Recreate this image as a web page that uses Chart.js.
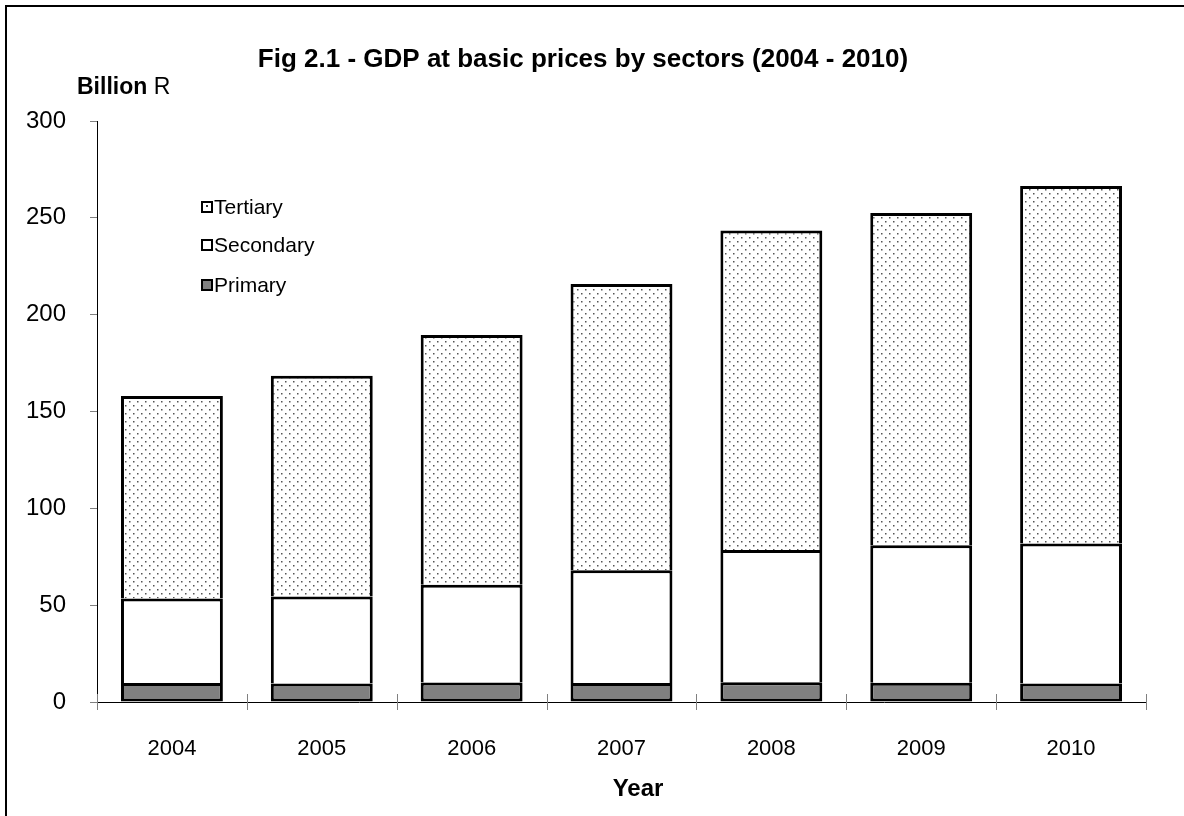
<!DOCTYPE html>
<html><head><meta charset="utf-8">
<script src="https://cdn.jsdelivr.net/npm/chart.js@4/dist/chart.umd.min.js"></script>
<style>html,body{margin:0;padding:0;background:#fff}#wrap{width:1184px;height:816px;position:relative}</style>
</head><body><div id="wrap"><canvas id="c" width="1184" height="816"></canvas></div>
<script>
const categories = ['2004','2005','2006','2007','2008','2009','2010'];
const primary   = [9.8, 9.5, 10.1, 9.8, 10.2, 10.0, 9.6];
const secondary = [43.7, 45.0, 50.4, 58.2, 68.3, 71.0, 72.2];
const tertiary  = [104.5, 114.0, 129.0, 147.8, 165.0, 171.5, 184.7];
const yTicks = [0, 50, 100, 150, 200, 250, 300];
const seriesNames = ['Primary', 'Secondary', 'Tertiary'];
const chartTitle = 'Fig 2.1 - GDP at basic prices by sectors (2004 - 2010)';
const yUnitBold = 'Billion';
const yUnitRest = ' R';
const xTitle = 'Year';

const FONT = "'Liberation Sans', Arial, sans-serif";

function dotPattern() {
  const t = document.createElement('canvas');
  t.width = 8; t.height = 8;
  const c = t.getContext('2d');
  c.fillStyle = '#ffffff'; c.fillRect(0, 0, 8, 8);
  c.fillStyle = '#555555';
  c.fillRect(1, 1, 1.5, 1.5);
  c.fillRect(5, 5, 1.5, 1.5);
  return document.getElementById('c').getContext('2d').createPattern(t, 'repeat');
}
const pat = dotPattern();
const fills = ['#808080', '#ffffff', pat];
const segBorder = [
  {top: 3, left: 3, right: 3, bottom: 3},
  {top: 3, left: 3, right: 3, bottom: 0},
  {top: 3, left: 3, right: 3, bottom: 0}
];
const seriesData = [primary, secondary, tertiary];

const decor = {
  id: 'decor',
  beforeDraw(chart) {
    const ctx = chart.ctx;
    ctx.save(); ctx.fillStyle = '#fff'; ctx.fillRect(0, 0, chart.width, chart.height); ctx.restore();
  },
  afterDraw(chart) {
    const ctx = chart.ctx;
    ctx.save();
    // outer frame
    ctx.strokeStyle = '#000'; ctx.lineWidth = 2;
    ctx.strokeRect(6, 6, chart.width + 20, chart.height + 20);
    // title
    ctx.fillStyle = '#000';
    ctx.textBaseline = 'middle'; ctx.textAlign = 'center';
    ctx.font = 'bold 26px ' + FONT;
    ctx.fillText(chartTitle, 583, 60);
    // unit label
    ctx.textAlign = 'left';
    ctx.font = 'bold 23px ' + FONT;
    ctx.fillText(yUnitBold, 77, 88);
    const w = ctx.measureText(yUnitBold).width;
    ctx.font = '23px ' + FONT;
    ctx.fillText(yUnitRest, 77 + w, 88);
    // x axis title
    ctx.font = 'bold 24px ' + FONT; ctx.textAlign = 'center';
    ctx.fillText(xTitle, 638, 789);
    // x tick marks at category boundaries
    const xs = chart.scales.x;
    ctx.strokeStyle = '#808080'; ctx.lineWidth = 1;
    const n = categories.length;
    const step = (xs.right - xs.left) / n;
    const yb = chart.chartArea.bottom;
    for (let i = 0; i <= n; i++) {
      const x = Math.round(xs.left + i * step) + 0.5;
      ctx.beginPath(); ctx.moveTo(x, yb - 8); ctx.lineTo(x, yb + 8); ctx.stroke();
    }
    // legend (reverse order)
    const ly = [207, 245, 285];
    ctx.font = '21px ' + FONT; ctx.textAlign = 'left'; ctx.textBaseline = 'middle';
    for (let k = 0; k < 3; k++) {
      const idx = 2 - k;
      const y = ly[k];
      ctx.fillStyle = idx === 2 ? '#fff' : fills[idx];
      ctx.fillRect(202, y - 5, 10, 10);
      if (idx === 2) { ctx.fillStyle = '#333'; ctx.fillRect(206, y - 2, 2, 2); }
      ctx.strokeStyle = '#000'; ctx.lineWidth = 2;
      ctx.strokeRect(202, y - 5, 10, 10);
      ctx.fillStyle = '#000';
      ctx.fillText(seriesNames[idx], 214, y + 1);
    }
    ctx.restore();
  }
};

new Chart(document.getElementById('c'), {
  type: 'bar',
  data: {
    labels: categories,
    datasets: seriesData.map((d, i) => ({
      label: seriesNames[i],
      data: d,
      backgroundColor: fills[i],
      borderColor: '#000',
      borderWidth: segBorder[i],
      borderSkipped: false,
      barPercentage: 0.68,
      categoryPercentage: 1.0
    }))
  },
  options: {
    responsive: false,
    animation: false,
    devicePixelRatio: 1,
    layout: { padding: { top: 121, right: 38, left: 0, bottom: 0 } },
    plugins: { legend: { display: false }, title: { display: false }, tooltip: { enabled: false } },
    scales: {
      x: {
        stacked: true,
        grid: { display: false },
        border: { display: true, color: '#000', width: 1 },
        ticks: { color: '#000', font: { family: FONT, size: 22 }, padding: 26 },
        afterFit(s) { s.height = 114; }
      },
      y: {
        stacked: true,
        min: 0, max: 300,
        afterBuildTicks(s) { s.ticks = yTicks.map(v => ({ value: v })); },
        grid: { display: true, drawOnChartArea: false, drawTicks: true, tickLength: 7, color: '#808080' },
        border: { display: true, color: '#000', width: 1 },
        ticks: { color: '#000', font: { family: FONT, size: 24 }, padding: 24 },
        afterFit(s) { s.width = 97; }
      }
    }
  },
  plugins: [decor]
});
</script>
</body></html>
